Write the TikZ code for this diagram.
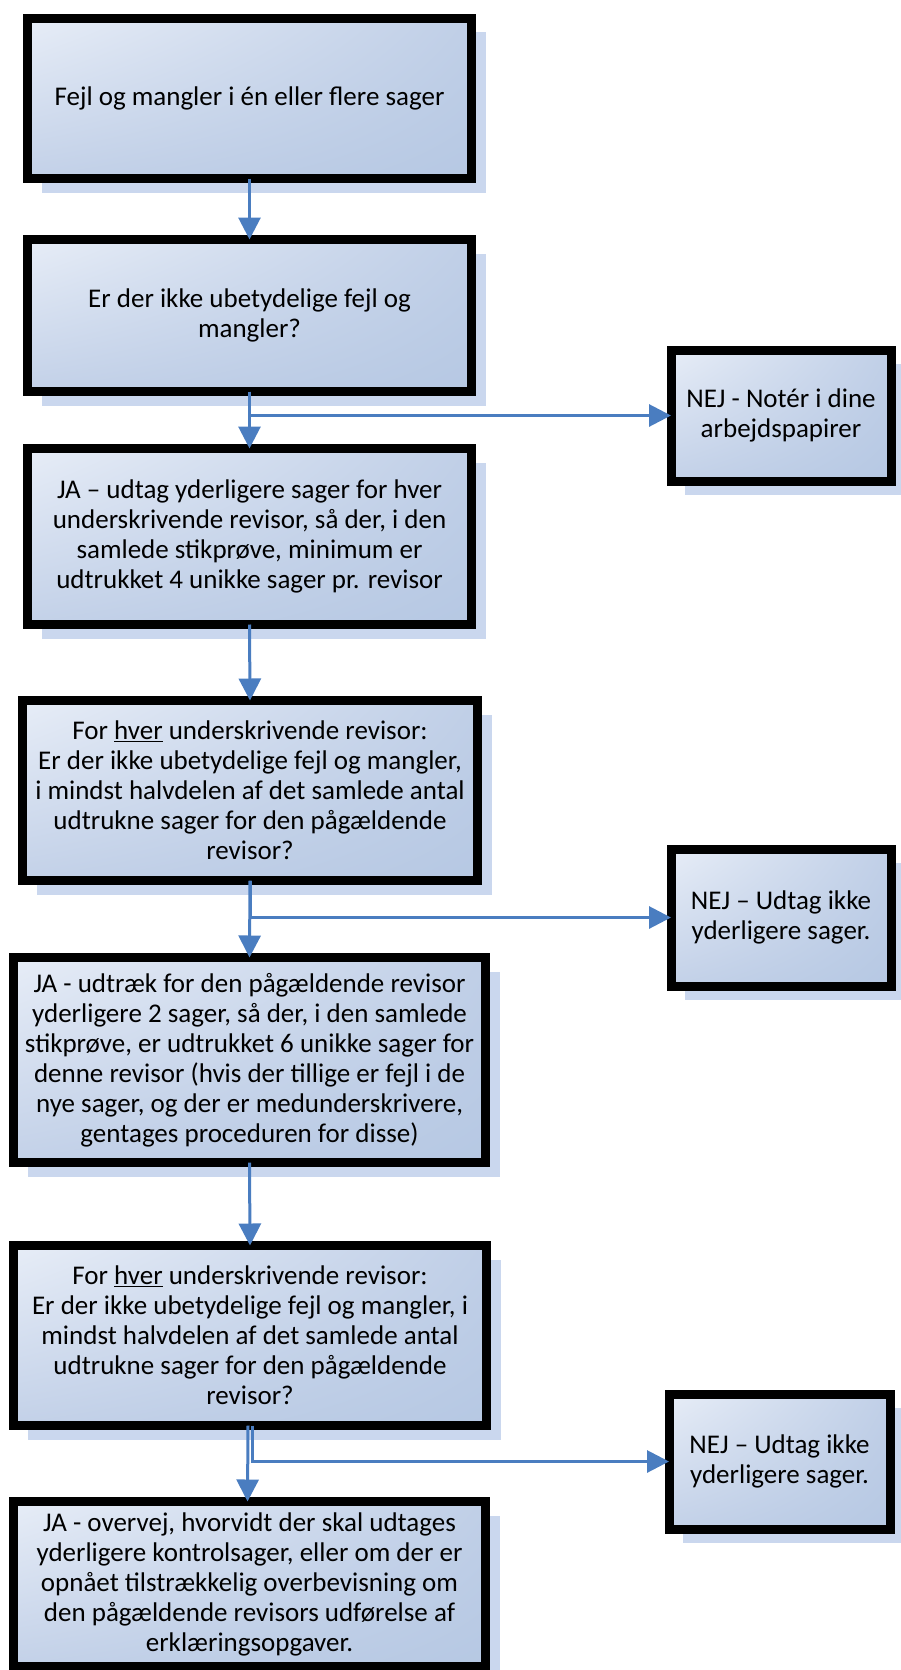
\documentclass[tikz,border=0pt]{standalone}
\usepackage{fontspec}
\setmainfont{Carlito}
\usetikzlibrary{arrows.meta,shadows,shadings}
\definecolor{fillA}{RGB}{231,237,247}
\definecolor{fillB}{RGB}{192,207,231}
\definecolor{fillC}{RGB}{195,209,232}
\definecolor{fillD}{RGB}{182,200,227}
\definecolor{shadowc}{RGB}{202,215,238}
\definecolor{linkblue}{RGB}{74,125,192}
\begin{document}
\begin{tikzpicture}[x=1pt,y=-1pt,
  box/.style={draw=black, line width=9pt, outer sep=0pt, inner sep=0pt,
    shading=bilinear interpolation, shade,
    upper left=fillA, upper right=fillB, lower left=fillC, lower right=fillD,
    drop shadow={fill=shadowc, opacity=1, shadow xshift=14pt, shadow yshift=-14pt},
    align=center, text=black, font=\fontsize{27}{30}\selectfont},
  conn/.style={draw=linkblue, line width=3pt, -{Triangle[width=22pt,length=22pt]}}]
\useasboundingbox (0,0) rectangle (901,1670);

\node[box, minimum width=444pt, minimum height=160pt] (b1) at (249.5,98.5)
  {Fejl og mangler i én eller flere sager};
\node[box, minimum width=444pt, minimum height=152pt] (b2) at (249.5,315.5)
  {Er der ikke ubetydelige fejl og\\mangler?};
\node[box, minimum width=444pt, minimum height=176pt] (b3) at (249.5,536.5)
  {JA – udtag yderligere sager for hver\\underskrivende revisor, så der, i den\\samlede stikprøve, minimum er\\udtrukket 4 unikke sager pr. revisor};
\node[box, minimum width=455pt, minimum height=180pt] (b4) at (250,790.5)
  {For \underline{hver} underskrivende revisor:\\Er der ikke ubetydelige fejl og mangler,\\i mindst halvdelen af det samlede antal\\udtrukne sager for den pågældende\\revisor?};
\node[box, minimum width=472pt, minimum height=205pt] (b5) at (249.5,1060)
  {JA - udtræk for den pågældende revisor\\yderligere 2 sager, så der, i den samlede\\stikprøve, er udtrukket 6 unikke sager for\\denne revisor (hvis der tillige er fejl i de\\nye sager, og der er medunderskrivere,\\gentages proceduren for disse)};
\node[box, minimum width=473pt, minimum height=180pt] (b6) at (250,1335.5)
  {For \underline{hver} underskrivende revisor:\\Er der ikke ubetydelige fejl og mangler, i\\mindst halvdelen af det samlede antal\\udtrukne sager for den pågældende\\revisor?};
\node[box, minimum width=472pt, minimum height=165pt] (b7) at (249.5,1584)
  {JA - overvej, hvorvidt der skal udtages\\yderligere kontrolsager, eller om der er\\opnået tilstrækkelig overbevisning om\\den pågældende revisors udførelse af\\erklæringsopgaver.};

\node[box, minimum width=220pt, minimum height=131pt] (n1) at (781,415.5)
  {NEJ - Notér i dine\\arbejdspapirer};
\node[box, minimum width=220pt, minimum height=137pt] (n2) at (781,917.5)
  {NEJ – Udtag ikke\\yderligere sager.};
\node[box, minimum width=221pt, minimum height=135pt] (n3) at (779.5,1461.5)
  {NEJ – Udtag ikke\\yderligere sager.};

\draw[conn] (b1.south) -- (b2.north);
\draw[conn] (b2.south) -- (b3.north);
\draw[conn] (b2.south) |- (n1.west);
\draw[conn] (b3.south) -- (b4.north);
\draw[conn] (b4.south) -- (b5.north);
\draw[conn] (b4.south) |- (n2.west);
\draw[conn] (b5.south) -- (b6.north);
\draw[conn] ([xshift=-2pt]b6.south) -- ([xshift=-2pt]b7.north);
\draw[conn] ([xshift=2pt]b6.south) |- (n3.west);
\end{tikzpicture}
\end{document}
